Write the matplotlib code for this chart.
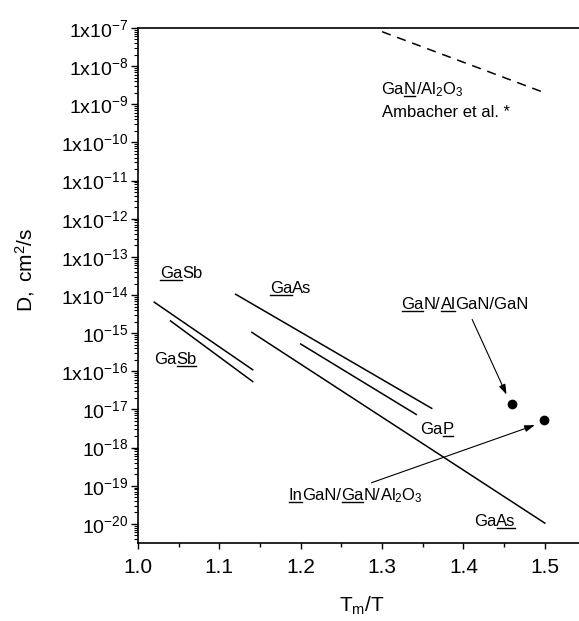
import matplotlib
matplotlib.use('Agg')
import matplotlib.pyplot as plt
from matplotlib.ticker import FixedLocator, FixedFormatter, LogLocator, NullFormatter, MultipleLocator
from matplotlib.transforms import IdentityTransform
from matplotlib.lines import Line2D
import numpy as np

plt.rcParams['font.family'] = ['Liberation Sans', 'DejaVu Sans']
plt.rcParams['mathtext.fontset'] = 'custom'
plt.rcParams['mathtext.rm'] = 'Liberation Sans'
plt.rcParams['mathtext.it'] = 'Liberation Sans:italic'
plt.rcParams['mathtext.bf'] = 'Liberation Sans:bold'

# diffusion lines: (Tm/T start, end), (D start, end)
gasb_ga_x = [1.02, 1.141]
gasb_ga_d = [6.5e-15, 1.1e-16]
gasb_sb_x = [1.04, 1.141]
gasb_sb_d = [2.1e-15, 5.4e-17]
gaas_ga_x = [1.12, 1.361]
gaas_ga_d = [1.05e-14, 1.07e-17]
gap_x = [1.20, 1.342]
gap_d = [5.2e-16, 7.4e-18]
gaas_as_x = [1.14, 1.50]
gaas_as_d = [1.05e-15, 1.05e-20]
ambacher_x = [1.30, 1.50]
ambacher_d = [8.0e-8, 2.0e-9]

# measured points
pts_x = [1.46, 1.499]
pts_d = [1.4e-17, 5.2e-18]

y_exps = list(range(-7, -21, -1))
y_labels = [r'$\mathregular{1x10^{%d}}$' % e if (e >= -14 or e == -16)
            else r'$\mathregular{10^{%d}}$' % e for e in y_exps]
x_ticks = [1.0, 1.1, 1.2, 1.3, 1.4, 1.5]

# labels: (x, log10 D at baseline, [(piece, underlined), ...])
labels = [
    (1.027, -13.55, [('Ga', True), ('Sb', False)]),
    (1.0197, -15.81, [('Ga', False), ('Sb', True)]),
    (1.162, -13.95, [('Ga', True), ('As', False)]),
    (1.324, -14.37, [('Ga', True), ('N/', False), ('Al', True), ('GaN/GaN', False)]),
    (1.347, -17.64, [('Ga', False), ('P', True)]),
    (1.4128, -20.05, [('Ga', False), ('As', True)]),
    (1.1847, -19.37, [('In', True), ('GaN/', False), ('Ga', True),
                      ('N/', False), (r'$\mathregular{Al_2O_3}$', False)]),
    (1.2994, -8.73, [('Ga', False), ('N', True), (r'$\mathregular{/Al_2O_3}$', False)]),
    (1.2994, -9.33, [('Ambacher et al. *', False)]),
]

fig = plt.figure(figsize=(5.79, 6.21), dpi=100)
ax = fig.add_axes([0.2383, 0.1256, 0.7617, 0.8293])
ax.set_yscale('log')
ax.set_xlim(1.0, 1.542)
ax.set_ylim(10 ** -20.5, 1e-7)

lw = 1.1
for xs, ds in [(gasb_ga_x, gasb_ga_d), (gasb_sb_x, gasb_sb_d), (gaas_ga_x, gaas_ga_d),
               (gap_x, gap_d), (gaas_as_x, gaas_as_d)]:
    ax.plot(xs, ds, color='black', lw=lw)
ax.plot(ambacher_x, ambacher_d, color='black', lw=lw, dashes=(6, 4.5))
ax.plot(pts_x, pts_d, 'o', color='black', ms=6)

# arrows from labels to points
arrow = dict(arrowstyle='-|>,head_length=0.6,head_width=0.2', color='black', lw=0.8,
             shrinkA=0, shrinkB=0)
ax.annotate('', xy=(1.4529, 10 ** -16.61), xytext=(1.4107, 10 ** -14.64), arrowprops=arrow)
ax.annotate('', xy=(1.4877, 10 ** -17.41), xytext=(1.287, 10 ** -18.92), arrowprops=arrow)

# axes styling
ax.spines['right'].set_visible(False)
for sp in ['left', 'bottom', 'top']:
    ax.spines[sp].set_linewidth(1.2)

ax.yaxis.set_major_locator(FixedLocator([10.0 ** e for e in y_exps]))
ax.yaxis.set_major_formatter(FixedFormatter(y_labels))
ax.yaxis.set_minor_locator(LogLocator(base=10, subs=np.arange(2, 10), numticks=40))
ax.yaxis.set_minor_formatter(NullFormatter())
ax.xaxis.set_major_locator(FixedLocator(x_ticks))
ax.xaxis.set_minor_locator(MultipleLocator(0.05))

ax.tick_params(axis='y', which='major', direction='out', length=5, width=1.0,
               labelsize=14, pad=2)
ax.tick_params(axis='y', which='minor', direction='out', length=3, width=0.8)
ax.tick_params(axis='x', which='major', direction='out', length=4.5, width=1.0,
               labelsize=15, pad=6)
ax.tick_params(axis='x', which='minor', direction='out', length=3, width=1.0)
ax.tick_params(top=False, right=False)

ax.set_xlabel(r'$\mathregular{T_m/T}$', fontsize=15)
ax.set_ylabel(r'$\mathregular{D,\ cm^2/s}$', fontsize=15)
ax.xaxis.set_label_coords(0.508, -0.10)
ax.yaxis.set_label_coords(-0.228, 0.53)

# label pieces laid out side by side in pixels, with underlines where needed
fs = 12
renderer = fig.canvas.get_renderer()
for x, e, parts in labels:
    px, py = ax.transData.transform((x, 10 ** e))
    for s, under in parts:
        t = fig.text(px, py, s, fontsize=fs, ha='left', va='baseline',
                     transform=IdentityTransform())
        w = t.get_window_extent(renderer).width
        if under:
            fig.add_artist(Line2D([px + 0.5, px + w - 0.5], [py - 2.2, py - 2.2],
                                  color='black', lw=1.0, transform=IdentityTransform()))
        px += w

fig.savefig('out.png', dpi=100)
